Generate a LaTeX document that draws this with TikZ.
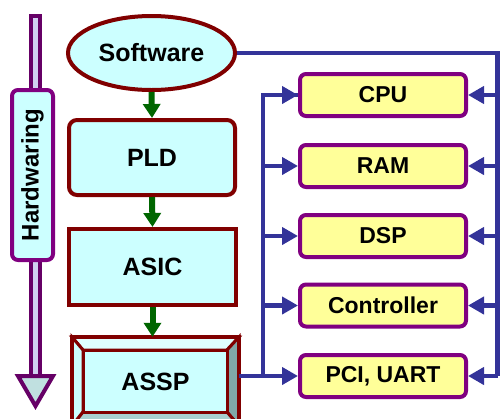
\documentclass[tikz,border=0pt]{standalone}
\usepackage{fontspec}
\setmainfont{Liberation Sans}
\usetikzlibrary{arrows.meta,shapes.geometric,calc}
\definecolor{dred}{HTML}{800000}
\definecolor{lcyan}{HTML}{CCFFFF}
\definecolor{lyellow}{HTML}{FFFF99}
\definecolor{purp}{HTML}{800080}
\definecolor{dpurp}{HTML}{660066}
\definecolor{lav}{HTML}{D0D0F0}
\definecolor{headfill}{HTML}{C0E0E0}
\definecolor{busblue}{HTML}{333399}
\definecolor{dgreen}{HTML}{006600}
\definecolor{bevtop}{HTML}{E0FFFF}
\definecolor{bevright}{HTML}{80A8A8}
\definecolor{bevbot}{HTML}{A8D0D0}
\tikzset{
  leftbox/.style={draw=dred,line width=4pt,fill=lcyan,inner sep=0pt,
    font=\fontsize{25}{30}\selectfont\bfseries},
  chip/.style={draw=purp,line width=4pt,fill=lyellow,rounded corners=6pt,
    minimum width=166pt,minimum height=42pt,inner sep=0pt,
    font=\fontsize{23}{28}\selectfont\bfseries},
  flow/.style={draw=dgreen,line width=6pt,-{Triangle[length=14pt,width=17pt]}},
  bus/.style={draw=busblue,line width=4.5pt},
  busarrow/.style={bus,-{Triangle[length=16pt,width=17pt]}},
}
\begin{document}
\begin{tikzpicture}[x=1pt,y=-1pt]
\useasboundingbox (0,0) rectangle (500,418);
% Hardwaring arrow
\draw[dpurp,line width=4pt,fill=lav] (31,16) rectangle (40,376);
\draw[dpurp,line width=4pt,fill=headfill,line join=miter] (18,376) -- (53,376) -- (35.5,406) -- cycle;
\node[draw=purp,line width=4pt,fill=lcyan,rounded corners=6pt,minimum width=41pt,minimum height=170pt,inner sep=0pt] (hw) at (32.5,175) {};
\node[rotate=90,font=\fontsize{24}{28}\selectfont\bfseries] (hwt) at (hw.center) {Hardwaring};
% left column
\node[leftbox,ellipse,minimum width=167pt,minimum height=74pt] (sw) at (151.5,53) {Software};
\node[leftbox,rounded corners=8pt,minimum width=166pt,minimum height=75pt] (pld) at (152,157.5) {PLD};
\node[leftbox,minimum width=167pt,minimum height=76pt] (asic) at (152.5,267) {ASIC};
% ASSP bevel
\begin{scope}[draw=dred,line width=3pt,line join=miter]
\filldraw[fill=bevtop] (72,337) -- (239,337) -- (227,350) -- (83,350) -- cycle;
\filldraw[fill=lcyan] (72,337) -- (83,350) -- (83,412) -- (72,426) -- cycle;
\filldraw[fill=bevright] (239,337) -- (239,426) -- (227,412) -- (227,350) -- cycle;
\filldraw[fill=bevbot] (72,426) -- (239,426) -- (227,412) -- (83,412) -- cycle;
\filldraw[fill=lcyan] (83,350) rectangle (227,412);
\draw[line width=4pt] (72,337) rectangle (239,426);
\end{scope}
\node[inner sep=0pt,minimum width=167pt,minimum height=89pt,font=\fontsize{25}{30}\selectfont\bfseries] (assp) at (155.5,381.5) {ASSP};
\draw[flow] (sw.south) -- (pld.north);
\draw[flow] (pld.south) -- (asic.north);
\draw[flow] (asic.south) -- (asic.south |- assp.north);
% right column
\node[chip] (cpu) at (383,95) {CPU};
\node[chip] (ram) at (383,166) {RAM};
\node[chip] (dsp) at (383,236) {DSP};
\node[chip] (ctl) at (383,305.5) {Controller};
\node[chip] (pci) at (383,376) {PCI, UART};
\coordinate (rb) at (497.5,0);
\coordinate (lb) at (263,0);
\draw[bus] (sw.east) -| (rb |- pci.east);
\foreach \b in {cpu,ram,dsp,ctl,pci}{
  \draw[busarrow] (rb |- \b.east) -- (\b.east);
}
\draw[bus] (assp.east |- pci.west) -- (lb |- pci.west);
\draw[bus,line join=miter] (lb |- pci.west) -- (lb |- cpu.west) -- (cpu.west);
\foreach \b in {cpu,ram,dsp,ctl,pci}{
  \draw[busarrow] (lb |- \b.west) -- (\b.west);
}
\end{tikzpicture}
\end{document}
